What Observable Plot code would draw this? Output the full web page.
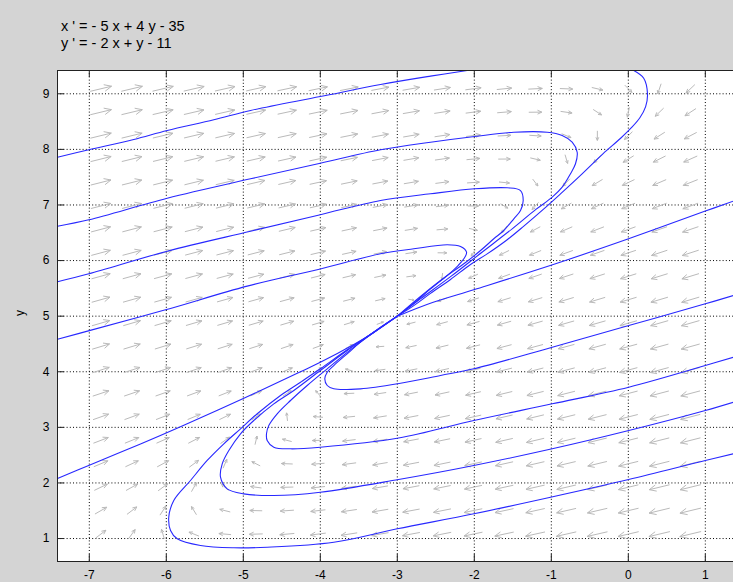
<!DOCTYPE html>
<html><head><meta charset="utf-8">
<script src="https://cdn.jsdelivr.net/npm/d3@7"></script>
<script src="https://cdn.jsdelivr.net/npm/@observablehq/plot@0.6"></script>
<style>
html,body{margin:0;padding:0;background:#d4d4d4;overflow:hidden;}
#wrap{width:733px;height:582px;position:relative;background:#d4d4d4;}
#title{position:relative;height:60px;font-family:"Liberation Sans",Arial,sans-serif;font-size:14.5px;line-height:16.6px;color:#000;}
#title div{position:absolute;left:61px;top:18px;white-space:pre;}
#chart svg{display:block;}
</style></head><body>
<div id="wrap">
<div id="title"><div>x ' = - 5 x + 4 y - 35
y ' = - 2 x + y - 11</div></div>
<div id="chart"></div>
</div>
<script>
// ---- data ----
const xTicks = [-7, -6, -5, -4, -3, -2, -1, 0, 1];
const yTicks = [1, 2, 3, 4, 5, 6, 7, 8, 9];
const xDomain = [-7.413, 1.366];
const yDomain = [0.587, 9.419];
// equation coefficients: x' = a*x + b*y + c ; y' = d*x + e*y + f
const xPrimeCoef = [-5, 4, -35];
const yPrimeCoef = [-2, 1, -11];
// direction-field grid (arrow centres)
const arrowXs = [-6.85,-6.447,-6.044,-5.641,-5.238,-4.835,-4.432,-4.029,-3.626,-3.223,-2.82,-2.417,-2.014,-1.611,-1.208,-0.805,-0.402,0.001,0.404,0.807];
const arrowYs = [1.08,1.502,1.923,2.345,2.766,3.188,3.61,4.031,4.453,4.874,5.296,5.718,6.139,6.561,6.982,7.404,7.826,8.247,8.669,9.09];
// trajectories (solution curves)
const trajA = [[-7.413,7.86],[-7.006,7.993],[-6.422,8.178],[-5.988,8.34],[-5.383,8.532],[-4.906,8.70],[-4.0,8.95],[-3.218,9.167],[-2.569,9.318],[-2.092,9.419]];
const trajK = [[0.071,9.419],[0.2,9.28],[0.249,9.0],[0.225,8.77],[0.15,8.57],[0.04,8.39],[-0.1,8.2],[-0.33,7.92],[-0.6,7.56],[-0.881,7.2],[-1.097,6.93],[-1.357,6.62],[-1.573,6.375],[-1.833,6.12],[-2.049,5.93],[-2.309,5.66],[-2.569,5.41],[-2.786,5.19],[-3,5]];
const trajB = [[-7.413,6.618],[-7.006,6.733],[-5.988,7.122],[-4.906,7.471],[-4.0,7.752],[-3.218,7.993],[-2.569,8.129],[-1.994,8.232],[-1.487,8.309],[-1.053,8.309],[-0.859,8.25],[-0.729,8.129],[-0.664,7.949],[-0.686,7.741],[-0.751,7.561],[-0.859,7.32],[-0.988,7.14],[-1.2,6.92],[-1.5,6.58],[-1.9,6.15],[-2.3,5.72],[-2.7,5.31],[-3,5]];
const trajC = [[-7.413,5.62],[-7.006,5.762],[-5.988,6.169],[-4.906,6.528],[-4.0,6.825],[-3.218,7.081],[-2.569,7.201],[-1.994,7.291],[-1.573,7.309],[-1.4,7.26],[-1.365,7.081],[-1.4,6.9],[-1.487,6.751],[-1.617,6.541],[-1.747,6.392],[-1.919,6.181],[-2.114,5.965],[-2.439,5.642],[-2.699,5.354],[-3,5]];
const trajD = [[-7.413,4.584],[-7.0,4.74],[-6.01,5.114],[-4.95,5.54],[-4.0,5.85],[-3.218,6.122],[-2.786,6.212],[-2.352,6.284],[-2.179,6.253],[-2.101,6.151],[-2.136,6.032],[-2.211,5.911],[-2.352,5.731],[-2.569,5.49],[-2.786,5.23],[-3,5]];
const trajE = [[-7.413,2.08],[-7.0,2.32],[-6.335,2.7],[-5.816,3.01],[-5.0,3.52],[-4.258,4.0],[-4.0,4.17],[-3.565,4.49],[-3.3,4.71],[-3,5]];
const trajF = [[1.366,7.07],[1.0,6.89],[0.003,6.392],[-0.994,5.92],[-1.997,5.48],[-2.543,5.246],[-3,5]];
const trajG = [[1.366,5.372],[1.0,5.222],[0.006,4.832],[-0.988,4.442],[-2.006,4.053],[-2.439,3.933],[-2.958,3.794],[-3.478,3.693],[-3.825,3.693],[-3.91,3.753],[-3.942,3.873],[-3.91,3.992],[-3.825,4.112],[-3.651,4.323],[-3.478,4.532],[-3.218,4.801],[-3,5]];
const trajH = [[1.366,4.262],[1.0,4.112],[0.006,3.722],[-0.988,3.423],[-2.006,3.123],[-2.984,2.808],[-4.0,2.643],[-4.387,2.614],[-4.604,2.643],[-4.69,2.763],[-4.699,2.884],[-4.669,3.033],[-4.56,3.244],[-4.387,3.483],[-4.17,3.753],[-3.91,4.053],[-3.565,4.442],[-3.305,4.711],[-3,5]];
const trajI = [[1.366,3.452],[1.0,3.303],[0.006,2.943],[-0.988,2.614],[-2.006,2.314],[-2.984,2.062],[-4.0,1.833],[-4.604,1.774],[-4.994,1.804],[-5.209,1.894],[-5.296,2.103],[-5.274,2.344],[-5.188,2.583],[-5.036,2.884],[-4.864,3.123],[-4.604,3.423],[-4.344,3.663],[-4.0,4.022],[-3.651,4.382],[-3.305,4.711],[-3,5]];
const trajJ = [[1.366,2.524],[1.0,2.404],[0.003,2.062],[-1.01,1.743],[-2.006,1.445],[-3.001,1.175],[-3.825,0.934],[-4.69,0.844],[-5.123,0.833],[-5.556,0.874],[-5.858,0.995],[-5.945,1.145],[-5.968,1.384],[-5.903,1.684],[-5.686,2.044],[-5.469,2.404],[-5.253,2.704],[-5.036,2.974],[-4.819,3.244],[-4.517,3.573],[-4.257,3.812],[-4.0,4.053],[-3.651,4.395],[-3.305,4.711],[-3,5]];
const trajectories = [trajA, trajK, trajB, trajC, trajD, trajE, trajF, trajG, trajH, trajI, trajJ];

// ---- layout ----
const W = 733, H = 522, mT = 10, mB = 21, mL = 57, mR = 0;
const kx = (W - mL - mR) / (xDomain[1] - xDomain[0]);
const ky = (H - mT - mB) / (yDomain[1] - yDomain[0]);
const tickLen = 7;

// direction field segments (shaft + two head wings), screen-true slopes
const Lmax = 22, mRef = 37, pExp = 0.28;
const segs = [];
for (const ax of arrowXs) for (const ay of arrowYs) {
  const u = xPrimeCoef[0]*ax + xPrimeCoef[1]*ay + xPrimeCoef[2];
  const v = yPrimeCoef[0]*ax + yPrimeCoef[1]*ay + yPrimeCoef[2];
  const m = Math.hypot(u, v);
  const su = u*kx, sv = v*ky, sm = Math.hypot(su, sv) || 1;
  const ux = su/sm, uy = sv/sm;
  const L = Math.max(3, Math.min(Lmax, Lmax*Math.pow(m/mRef, pExp)));
  const tx = ax - ux*L/2/kx, ty = ay - uy*L/2/ky;
  const hx = ax + ux*L/2/kx, hy = ay + uy*L/2/ky;
  const hb = L*0.33, hw = L*0.15;
  segs.push({x1: tx, y1: ty, x2: hx, y2: hy});
  segs.push({x1: hx + (-hb*ux - hw*uy)/kx, y1: hy + (-hb*uy + hw*ux)/ky, x2: hx, y2: hy});
  segs.push({x1: hx + (-hb*ux + hw*uy)/kx, y1: hy + (-hb*uy - hw*ux)/ky, x2: hx, y2: hy});
}

const axisColor = "#222";
const chart = Plot.plot({
  width: W, height: H,
  marginTop: mT, marginBottom: mB, marginLeft: mL, marginRight: mR,
  style: {background: "transparent", fontFamily: "'Liberation Sans', Arial, sans-serif", fontSize: "12px", color: "#000", overflow: "visible"},
  x: {domain: xDomain, axis: null},
  y: {domain: yDomain, axis: null},
  marks: [
    Plot.frame({fill: "white", stroke: "none"}),
    Plot.ruleX(xTicks, {x: d => d, stroke: "#000", strokeDasharray: "1,2.2", strokeWidth: 1}),
    Plot.ruleY(yTicks, {y: d => d, stroke: "#000", strokeDasharray: "1,2.2", strokeWidth: 1}),
    Plot.link(segs, {x1: "x1", y1: "y1", x2: "x2", y2: "y2", stroke: "#bababa", strokeWidth: 1}),
    ...trajectories.map(t => Plot.line(t, {x: d => d[0], y: d => d[1], stroke: "#2828ff", strokeWidth: 1.1, curve: "catmull-rom", clip: true})),
    // frame borders (right edge falls outside the picture)
    Plot.ruleX([xDomain[0]], {stroke: axisColor, strokeWidth: 1}),
    Plot.ruleY([yDomain[0], yDomain[1]], {stroke: axisColor, strokeWidth: 1}),
    // inward ticks
    Plot.ruleX(xTicks, {x: d => d, y1: yDomain[0], y2: yDomain[0] + tickLen/ky, stroke: axisColor}),
    Plot.ruleX(xTicks, {x: d => d, y1: yDomain[1] - tickLen/ky, y2: yDomain[1], stroke: axisColor}),
    Plot.ruleY(yTicks, {y: d => d, x1: xDomain[0], x2: xDomain[0] + tickLen/kx, stroke: axisColor}),
    // tick labels
    Plot.text(xTicks, {x: d => d, y: yDomain[0], dy: 14, text: d => String(d), fill: "#000"}),
    Plot.text(yTicks, {x: xDomain[0], y: d => d, dx: -8, textAnchor: "end", text: d => String(d), fill: "#000"}),
    Plot.text(["y"], {frameAnchor: "left", dx: -37, rotate: -90, text: d => d, fill: "#000"})
  ]
});
document.getElementById("chart").appendChild(chart);
</script>
</body></html>
